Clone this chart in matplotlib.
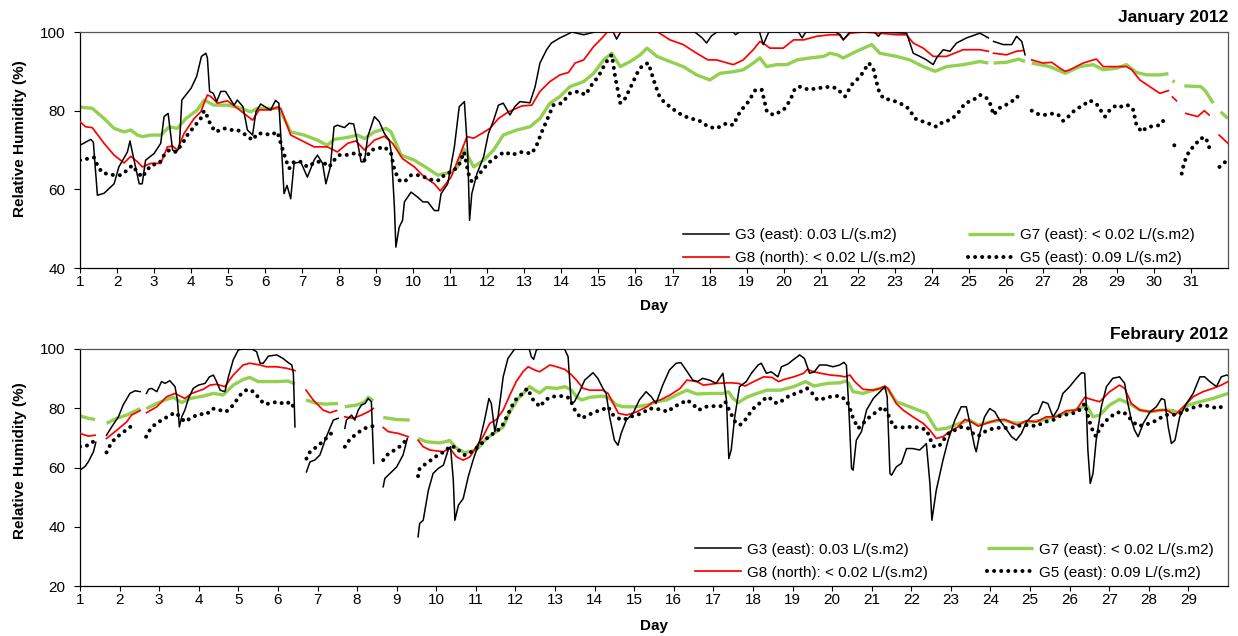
import numpy as np
import matplotlib
matplotlib.use('Agg')
import matplotlib.pyplot as plt

plt.rcParams['font.family'] = ['Liberation Sans', 'DejaVu Sans']

# ---------------- DATA (day, relative humidity %) ; None = gap in record ----------------
jan_g3 = [(1.0,71.2),(1.29,72.7),(1.36,72.0),(1.47,58.5),(1.65,59.0),(1.92,61.4),(2.05,65.7),(2.28,69.5),(2.35,72.3),
          (2.46,67.4),(2.6,61.4),(2.68,61.4),(2.77,67.4),(3.0,69.1),(3.18,71.7),(3.27,78.5),(3.38,79.3),(3.5,70.0),
          (3.59,69.5),(3.68,70.4),(3.75,82.7),(4.0,85.7),(4.15,88.7),(4.28,93.8),(4.4,94.6),(4.44,93.4),(4.5,84.9),
          (4.6,84.4),(4.69,82.3),(4.8,84.9),(4.93,84.9),(5.16,81.4),(5.25,82.7),(5.4,81.0),(5.52,75.1),(5.66,73.8),
          (5.75,79.7),(5.88,81.7),(6.06,80.6),(6.15,80.2),(6.28,82.6),(6.37,81.9),(6.44,70.8),(6.51,58.9),(6.59,61.0),
          (6.69,57.6),(6.78,66.6),(6.96,67.0),(7.14,63.1),(7.32,67.4),(7.41,68.7),(7.55,66.6),(7.64,61.4),(7.76,65.7),
          (7.86,75.9),(7.95,76.3),(8.14,75.7),(8.27,76.8),(8.39,76.6),(8.5,71.7),(8.59,67.0),(8.68,67.0),(8.77,73.4),
          (8.95,78.5),(9.08,77.2),(9.22,74.2),(9.35,72.5),(9.41,69.1),(9.49,55.5),(9.53,45.3),(9.62,50.4),(9.71,52.1),
          (9.76,56.8),(9.94,59.3),(10.12,58.0),(10.26,56.8),(10.39,56.8),(10.57,54.6),(10.68,54.6),(10.75,58.9),
          (10.93,61.4),(11.11,70.8),(11.24,81.0),(11.38,82.3),(11.47,69.1),(11.52,52.1),(11.58,58.9),(11.72,64.0),
          (11.9,68.3),(12.03,74.2),(12.17,77.6),(12.3,81.4),(12.43,81.9),(12.61,78.9),(12.74,81.0),(12.88,82.3),
          (13.15,82.0),(13.29,86.1),(13.42,92.1),(13.6,95.5),(13.73,97.2),(13.96,98.5),(14.14,99.3),(14.28,100),
          (14.6,99.3),(14.9,100),(15.4,100),(15.49,98.2),(15.6,100),(17.6,100),(17.8,98.5),(17.92,97.2),(18.05,99.0),
          (18.2,100),(18.64,100),(18.7,99.3),(18.8,100),(19.35,100),(19.45,96.8),(19.6,100),(20.4,100),(20.5,98.5),
          (20.6,100),(21.4,100),(21.53,99.3),(21.61,98.0),(21.79,100),(22.45,100),(22.56,98.9),(22.65,100),
          (23.32,99.7),(23.41,97.2),(23.5,94.6),(23.68,93.8),(23.86,92.9),(24.04,91.7),(24.13,93.4),(24.31,95.5),
          (24.49,95.1),(24.67,97.2),(24.94,98.5),(25.3,99.7),(25.53,98.5),None,(25.67,97.6),(25.93,96.8),
          (26.16,96.8),(26.29,98.9),(26.43,97.6),(26.52,94.2)]

jan_g8 = [(1.0,77.2),(1.15,75.9),(1.33,75.7),(1.65,71.7),(1.92,68.7),(2.19,66.7),(2.37,68.4),(2.55,67.0),(2.68,65.7),
          (2.91,66.6),(3.18,66.6),(3.36,70.8),(3.5,71.0),(3.63,70.0),(3.81,74.2),(4.08,78.0),(4.26,79.7),(4.44,84.0),
          (4.53,83.6),(4.71,81.9),(4.98,82.5),(5.21,80.9),(5.43,79.3),(5.66,77.6),(5.84,80.2),(6.15,80.2),(6.33,80.9),
          (6.42,80.6),(6.69,73.8),(7.05,72.1),(7.32,70.8),(7.68,70.8),(7.95,69.5),(8.23,71.7),(8.45,72.3),(8.68,70.0),
          (8.95,72.5),(9.22,73.5),(9.44,71.7),(9.71,67.8),(10.03,65.7),(10.3,63.1),(10.57,61.4),(10.73,59.6),
          (11.02,63.1),(11.29,69.5),(11.45,73.4),(11.63,73.0),(11.85,74.2),(12.07,75.5),(12.3,78.0),(12.57,79.7),
          (12.93,81.2),(13.2,81.4),(13.42,84.9),(13.69,87.4),(13.96,89.1),(14.19,89.7),(14.37,92.1),(14.6,92.9),
          (14.87,96.3),(15.1,98.5),(15.24,100),(16.6,100),(16.93,98.0),(17.29,96.8),(17.65,94.6),(17.96,92.9),
          (18.19,92.9),(18.64,91.7),(18.91,92.9),(19.18,95.5),(19.36,97.6),(19.5,96.8),(19.63,95.9),(19.99,95.9),
          (20.27,98.0),(20.54,98.0),(20.89,98.9),(21.25,99.3),(21.5,99.3),(21.61,98.0),(21.79,99.7),(22.15,100),
          (22.6,99.7),(23.05,99.3),(23.32,99.3),(23.5,97.2),(23.77,95.9),(24.04,93.8),(24.4,93.8),(24.85,95.5),
          (25.3,95.5),(25.53,95.1),None,(25.67,94.6),(26.02,94.2),(26.29,95.1),(26.47,95.3),None,(26.7,92.9),
          (27.01,92.1),(27.24,92.3),(27.46,90.8),(27.6,90.0),(27.73,90.4),(28.09,92.1),(28.36,92.9),(28.45,93.1),
          (28.63,91.2),(28.99,91.2),(29.26,91.2),(29.4,90.4),(29.62,87.8),(29.89,86.1),(30.16,84.4),(30.39,85.1),
          None,(30.5,83.5),(30.61,82.5),None,(30.86,79.3),(31.18,78.5),(31.36,80.0),(31.49,78.9),None,
          (31.76,73.8),(32.0,71.7)]

jan_g7 = [(1.0,80.9),(1.33,80.6),(1.65,78.0),(1.92,75.5),(2.19,74.6),(2.37,75.1),(2.55,73.8),(2.68,73.4),(2.91,73.8),
          (3.18,73.8),(3.41,75.9),(3.63,75.5),(3.86,78.0),(4.17,80.2),(4.35,82.7),(4.62,81.4),(4.98,81.4),(5.25,80.9),
          (5.61,79.7),(5.79,80.6),(6.15,80.6),(6.38,80.6),(6.69,74.6),(7.05,73.8),(7.41,72.5),(7.68,71.2),(7.86,72.7),
          (8.23,73.2),(8.5,73.8),(8.68,72.9),(8.95,74.6),(9.26,75.5),(9.4,74.6),(9.67,68.7),(10.03,67.4),(10.39,65.3),
          (10.66,63.6),(11.02,64.4),(11.2,65.7),(11.37,70.2),(11.63,65.7),(11.9,67.4),(12.17,70.0),(12.43,73.8),
          (12.8,75.1),(13.15,75.9),(13.42,78.0),(13.69,81.9),(13.96,83.6),(14.23,86.1),(14.6,87.4),(14.87,89.5),
          (15.14,92.9),(15.36,94.6),(15.59,91.2),(15.86,92.5),(16.13,94.2),(16.31,95.9),(16.58,93.8),(16.93,92.5),
          (17.29,91.2),(17.65,89.1),(18.01,87.8),(18.28,89.5),(18.64,89.9),(18.91,90.4),(19.18,92.1),(19.36,93.4),
          (19.54,91.2),(19.81,91.7),(20.09,91.7),(20.36,92.9),(20.72,93.4),(21.08,93.8),(21.25,94.6),(21.45,94.2),
          (21.61,93.4),(21.97,95.1),(22.38,96.8),(22.6,94.6),(23.05,93.8),(23.41,92.9),(23.77,91.2),(24.09,90.0),
          (24.4,91.2),(24.85,91.7),(25.3,92.5),(25.53,92.1),None,(25.67,92.1),(26.02,92.3),(26.34,93.1),(26.52,92.5),
          None,(26.7,92.1),(27.19,91.2),(27.6,89.5),(28.0,91.2),(28.36,91.7),(28.63,90.4),(28.99,90.8),(29.26,91.7),
          (29.53,89.7),(29.8,89.1),(30.16,89.1),(30.39,89.4),None,(30.5,87.6),(30.56,87.3),None,(30.82,86.3),
          (31.27,86.1),(31.4,84.9),(31.6,81.9),None,(31.8,79.7),(32.0,78.0)]

jan_g5 = [(1.0,67.4),(1.38,68.1),(1.47,66.1),(1.6,64.2),(1.92,63.6),(2.1,63.6),(2.28,64.9),(2.41,66.1),(2.55,64.4),
          (2.68,63.1),(2.91,66.1),(3.14,66.6),(3.27,68.7),(3.41,70.0),(3.59,69.5),(3.77,71.7),(3.9,73.8),(4.08,75.9),
          (4.26,78.0),(4.35,80.0),(4.44,78.5),(4.53,76.3),(4.66,74.6),(4.89,75.5),(5.07,75.1),(5.25,75.1),(5.48,73.8),
          (5.66,72.5),(5.79,74.2),(5.97,74.2),(6.15,73.8),(6.33,74.6),(6.44,71.2),(6.56,67.4),(6.65,65.3),(6.78,67.0),
          (6.96,67.0),(7.14,65.7),(7.37,67.0),(7.55,67.0),(7.73,65.7),(7.86,67.4),(8.0,68.7),(8.18,68.7),(8.36,69.1),
          (8.54,69.1),(8.68,67.4),(8.86,70.0),(9.05,70.4),(9.22,70.8),(9.4,69.1),(9.49,64.9),(9.62,62.3),(9.76,61.9),
          (9.94,63.6),(10.16,63.6),(10.3,63.1),(10.53,62.3),(10.71,62.3),(10.87,64.0),(11.05,64.4),(11.23,66.1),
          (11.37,69.5),(11.49,64.0),(11.58,61.9),(11.72,63.1),(11.9,65.3),(12.07,67.0),(12.3,68.7),(12.48,69.5),
          (12.66,68.7),(12.88,69.5),(13.2,69.1),(13.33,71.2),(13.47,74.6),(13.65,78.5),(13.78,81.4),(14.01,81.9),
          (14.23,84.4),(14.46,84.9),(14.65,84.0),(14.82,86.6),(15.0,88.7),(15.19,92.1),(15.36,94.2),(15.45,88.7),
          (15.59,81.9),(15.72,83.1),(15.9,86.6),(16.09,90.4),(16.22,91.7),(16.35,92.1),(16.49,87.8),(16.63,84.0),
          (16.76,82.3),(16.98,80.6),(17.25,78.9),(17.48,78.0),(17.7,77.6),(17.97,75.9),(18.19,75.5),(18.46,76.8),
          (18.64,76.3),(18.82,79.7),(19.05,82.3),(19.24,85.3),(19.41,85.3),(19.55,79.7),(19.73,78.9),(20.0,80.2),
          (20.18,82.7),(20.31,85.7),(20.45,86.1),(20.68,85.3),(20.9,85.7),(21.26,86.1),(21.43,85.7),(21.66,83.6),
          (21.84,86.6),(22.07,88.7),(22.3,92.1),(22.42,90.8),(22.56,85.3),(22.69,83.1),(22.92,82.7),(23.14,81.9),
          (23.37,80.6),(23.55,78.0),(23.77,77.2),(23.95,76.6),(24.13,75.9),(24.31,77.2),(24.49,77.6),(24.67,78.9),
          (24.9,81.9),(25.12,82.7),(25.3,84.0),(25.44,83.6),(25.56,82.3),(25.67,78.9),(25.81,80.6),(25.99,81.4),
          (26.16,82.3),(26.29,83.6),(26.47,83.1),None,(26.7,80.0),(26.88,79.1),(27.1,78.9),(27.28,79.3),(27.42,78.9),
          (27.55,77.4),(27.69,78.5),(27.87,80.2),(28.09,81.4),(28.27,82.6),(28.45,81.7),(28.59,79.7),(28.68,78.5),
          (28.81,80.2),(28.99,81.4),(29.17,80.9),(29.31,81.4),(29.44,80.2),(29.53,76.3),(29.67,74.6),(29.8,75.7),
          (29.98,76.1),(30.16,76.3),(30.3,78.0),None,(30.55,71.2),(30.59,70.8),None,(30.75,64.0),(30.81,66.6),
          (30.88,68.3),(30.97,70.0),(31.11,71.2),(31.24,72.9),(31.4,73.2),(31.47,71.2),(31.56,69.1),None,
          (31.77,65.7),(31.93,67.0)]

feb_g3 = [(1.0,59.1),(1.13,60.4),(1.21,61.9),(1.34,65.3),(1.4,68.5),None,
          (1.67,70.9),(1.8,73.7),(1.97,77.1),(2.09,81.1),(2.26,85.0),(2.39,85.9),(2.52,85.6),None,
          (2.68,85.0),(2.73,86.4),(2.81,86.7),(2.94,85.6),(3.06,89.0),(3.15,88.4),(3.27,89.3),(3.4,87.3),(3.46,82.8),
          (3.51,73.7),(3.57,77.1),(3.65,79.4),(3.74,83.3),(3.86,86.7),(3.99,87.8),(4.16,88.4),(4.27,90.6),(4.37,91.2),
          (4.45,89.0),(4.54,86.1),(4.66,85.6),(4.75,90.6),(4.87,96.3),(5.0,99.7),(5.12,100),(5.34,100),(5.46,99.1),
          (5.55,95.2),(5.63,95.2),(5.76,97.6),(5.97,98.0),(6.13,96.8),(6.26,95.4),(6.35,94.6),(6.39,91.8),(6.43,73.7),None,
          (6.72,58.5),(6.81,61.9),(6.93,62.5),(7.06,64.2),(7.19,69.2),(7.31,73.2),(7.4,76.0),(7.52,76.6),None,
          (7.69,73.2),(7.73,76.0),(7.86,77.7),(7.94,76.0),(8.03,79.4),(8.11,81.1),(8.2,81.6),(8.28,83.3),(8.36,82.2),
          (8.42,61.4),None,
          (8.66,53.5),(8.7,56.3),(8.83,58.0),(9.0,60.2),(9.16,64.2),(9.27,69.8),None,
          (9.54,36.6),(9.58,41.1),(9.67,42.2),(9.8,52.3),(9.92,58.0),(10.05,59.7),(10.18,60.8),(10.3,65.9),(10.36,67.0),
          (10.43,55.7),(10.47,42.2),(10.56,47.3),(10.68,49.5),(10.81,57.0),(10.93,62.5),(11.1,69.2),(11.22,76.0),
          (11.33,83.3),(11.39,81.6),(11.48,72.1),(11.56,77.1),(11.69,90.6),(11.81,96.8),(11.98,100),(12.35,100),
          (12.4,97.4),(12.46,96.5),(12.53,99.7),(12.6,100),(13.24,100),(13.33,97.4),(13.41,81.6),(13.49,82.2),
          (13.62,85.6),(13.75,89.5),(13.96,92.0),(14.08,90.1),(14.21,86.7),(14.29,85.0),(14.38,77.1),(14.5,69.2),
          (14.59,67.5),(14.67,71.5),(14.8,76.0),(14.97,78.3),(15.13,82.8),(15.3,85.6),(15.43,83.9),(15.55,81.6),
          (15.72,87.8),(15.89,92.9),(16.06,95.2),(16.18,95.4),(16.31,92.9),(16.48,89.5),(16.6,89.0),(16.73,90.1),
          (16.9,89.5),(17.07,88.4),(17.24,91.8),(17.33,82.8),(17.39,63.0),(17.45,65.9),(17.54,77.1),(17.66,87.3),
          (17.83,89.0),(17.96,91.8),(18.13,94.6),(18.21,95.2),(18.34,91.8),(18.46,92.3),(18.63,90.6),(18.72,94.0),
          (18.88,94.9),(19.01,96.3),(19.18,98.0),(19.3,96.8),(19.43,91.8),(19.55,92.3),(19.68,94.6),(19.85,94.6),
          (20.02,94.0),(20.19,94.6),(20.3,95.5),(20.36,94.5),(20.42,80.5),(20.49,59.7),(20.53,59.1),(20.61,69.2),
          (20.74,72.1),(20.87,79.4),(21.04,83.3),(21.21,85.6),(21.33,87.3),(21.39,83.9),(21.46,58.0),(21.5,57.4),
          (21.62,60.2),(21.75,61.4),(21.88,66.4),(22.04,66.4),(22.21,65.9),(22.3,67.0),(22.38,68.1),(22.47,54.6),
          (22.52,42.2),(22.63,52.3),(22.8,62.5),(22.93,69.2),(23.1,76.0),(23.26,80.5),(23.39,80.5),(23.48,74.9),
          (23.6,67.0),(23.64,65.3),(23.73,71.5),(23.85,77.1),(23.98,79.9),(24.11,78.8),(24.23,76.0),(24.36,73.7),
          (24.53,70.4),(24.65,69.2),(24.78,71.5),(24.91,75.4),(25.07,77.7),(25.2,78.3),(25.32,82.2),(25.45,81.6),
          (25.58,77.1),(25.71,79.9),(25.83,85.0),(26.0,87.3),(26.17,90.1),(26.3,92.0),(26.38,91.8),(26.42,80.5),
          (26.46,65.9),(26.52,54.6),(26.59,58.0),(26.67,69.2),(26.8,80.5),(26.93,87.3),(27.09,90.1),(27.26,90.6),
          (27.39,88.4),(27.47,81.6),(27.56,76.0),(27.64,72.6),(27.73,70.4),(27.86,74.9),(28.03,78.8),(28.19,80.5),
          (28.32,83.3),(28.4,82.8),(28.49,73.7),(28.57,68.1),(28.66,69.2),(28.78,77.1),(28.95,81.6),(29.12,85.0),
          (29.29,90.6),(29.41,90.6),(29.54,89.0),(29.71,87.3),(29.83,90.6),(29.96,91.2),(30.0,91.0)]

feb_g8 = [(1.0,71.5),(1.21,70.6),(1.38,70.9),None,
          (1.67,69.8),(1.93,72.6),(2.18,75.4),(2.3,77.7),(2.52,79.2),None,
          (2.68,78.5),(2.94,80.5),(3.19,83.9),(3.4,85.0),(3.65,83.3),(3.82,85.0),(4.11,86.4),(4.28,87.8),(4.45,88.1),
          (4.66,87.3),(4.87,91.2),(5.12,94.6),(5.29,95.2),(5.55,94.6),(5.71,94.0),(5.97,94.0),(6.22,93.5),(6.43,92.7),None,
          (6.71,86.1),(6.89,82.8),(7.14,79.4),(7.31,78.5),(7.48,79.2),None,
          (7.69,77.1),(7.9,76.6),(8.11,77.7),(8.28,78.8),(8.41,79.9),None,
          (8.66,73.5),(8.79,72.1),(9.04,71.5),(9.29,70.4),None,
          (9.54,69.2),(9.67,67.0),(9.84,65.9),(10.18,65.3),(10.34,66.5),(10.51,63.6),(10.68,62.5),(10.85,63.6),
          (11.01,67.0),(11.18,70.4),(11.35,74.9),(11.52,76.2),(11.69,79.4),(11.86,84.5),(12.02,89.0),(12.19,92.3),
          (12.32,94.0),(12.49,92.9),(12.61,92.3),(12.87,94.6),(13.04,94.0),(13.25,93.1),(13.42,91.2),(13.54,89.5),
          (13.71,86.7),(13.88,86.1),(14.21,86.1),(14.34,85.0),(14.47,81.6),(14.6,78.3),(14.81,77.7),(15.06,78.8),
          (15.32,80.5),(15.49,82.2),(15.66,82.8),(15.91,84.5),(16.16,86.7),(16.33,89.5),(16.58,89.0),(16.75,87.8),
          (17.09,88.4),(17.42,88.6),(17.63,88.4),(17.8,87.5),(18.02,89.0),(18.27,90.6),(18.48,90.4),(18.65,89.0),
          (18.78,89.7),(19.03,90.6),(19.28,91.8),(19.37,93.1),(19.54,92.3),(19.71,91.8),(19.96,91.2),(20.21,90.9),
          (20.32,90.6),(20.45,91.2),(20.57,89.0),(20.78,86.4),(21.04,86.1),(21.21,86.7),(21.33,87.5),(21.41,86.7),
          (21.62,81.6),(21.79,79.4),(22.04,77.1),(22.3,74.9),(22.47,72.6),(22.63,69.8),(22.8,70.4),(22.97,72.1),
          (23.18,73.7),(23.35,76.2),(23.52,75.4),(23.69,74.0),(23.9,74.9),(24.15,76.0),(24.36,76.2),(24.57,74.9),
          (24.69,74.3),(24.9,75.8),(25.16,75.4),(25.41,77.1),(25.66,77.1),(25.92,79.2),(26.17,79.4),(26.38,83.7),
          (26.59,82.8),(26.76,82.2),(27.01,85.6),(27.26,87.8),(27.39,86.7),(27.56,81.6),(27.77,79.4),(28.03,78.8),
          (28.28,79.4),(28.45,79.4),(28.66,77.7),(28.87,80.5),(29.12,83.9),(29.37,85.6),(29.62,86.7),(29.83,87.8),
          (30.0,89.0)]

feb_g7 = [(1.0,77.4),(1.21,76.6),(1.38,76.2),None,
          (1.67,74.9),(1.93,76.6),(2.18,77.7),(2.52,79.9),None,
          (2.68,79.9),(2.94,81.6),(3.19,83.0),(3.36,83.7),(3.57,81.9),(3.78,83.3),(4.11,84.1),(4.37,85.0),(4.62,84.5),
          (4.87,87.8),(5.12,89.7),(5.29,90.4),(5.5,89.0),(5.71,89.0),(5.97,89.0),(6.26,89.2),(6.43,88.2),None,
          (6.71,82.8),(6.98,81.6),(7.23,81.4),(7.52,81.6),None,
          (7.69,80.5),(7.99,81.1),(8.2,82.2),(8.28,83.7),(8.41,82.5),None,
          (8.66,76.9),(9.0,76.2),(9.33,76.0),None,
          (9.54,69.8),(9.75,68.7),(10.09,68.3),(10.34,69.1),(10.51,66.5),(10.72,65.0),(11.01,65.9),(11.27,69.8),
          (11.52,72.1),(11.69,73.7),(11.86,78.8),(12.07,83.3),(12.24,85.6),(12.36,87.3),(12.49,86.1),(12.61,85.2),
          (12.78,87.0),(13.04,86.7),(13.25,87.3),(13.42,86.1),(13.54,83.9),(13.67,82.8),(13.88,83.7),(14.21,84.1),
          (14.38,83.3),(14.55,81.1),(14.72,80.5),(15.06,80.5),(15.32,81.1),(15.57,82.2),(15.82,82.8),(16.07,84.5),
          (16.33,86.1),(16.58,84.8),(16.92,85.0),(17.25,85.0),(17.38,85.6),(17.5,83.3),(17.63,81.9),(17.84,83.7),
          (18.1,85.0),(18.35,86.1),(18.69,86.1),(19.03,87.3),(19.33,89.0),(19.54,87.5),(19.88,88.4),(20.21,88.6),
          (20.34,89.2),(20.42,88.4),(20.53,85.6),(20.78,85.0),(21.04,86.1),(21.29,87.0),(21.41,86.4),(21.62,82.2),
          (21.96,80.5),(22.38,78.3),(22.63,72.8),(22.88,73.2),(23.22,74.9),(23.47,76.0),(23.69,74.3),(23.98,75.4),
          (24.32,76.0),(24.65,74.9),(24.99,75.4),(25.32,76.0),(25.66,77.4),(26.0,78.8),(26.25,79.9),(26.42,81.1),
          (26.59,77.1),(26.76,77.7),(27.01,81.1),(27.26,83.0),(27.51,81.6),(27.77,79.4),(28.03,78.8),(28.36,79.4),
          (28.62,79.2),(28.74,78.5),(29.0,81.1),(29.29,82.2),(29.62,83.3),(30.0,85.0)]

feb_g5 = [(1.0,67.0),(1.21,67.5),(1.38,69.2),None,
          (1.67,65.1),(1.76,67.5),(1.88,69.7),(2.05,71.5),(2.22,73.2),(2.35,74.5),None,
          (2.67,70.4),(2.77,72.8),(2.92,74.9),(3.1,76.2),(3.27,77.7),(3.42,78.5),(3.65,75.4),(3.82,76.9),(4.01,78.0),
          (4.2,78.0),(4.35,79.9),(4.52,79.4),(4.69,78.8),(4.83,80.5),(4.96,82.8),(5.08,85.0),(5.23,86.4),(5.38,85.6),
          (5.53,83.3),(5.65,81.4),(5.8,81.6),(5.98,82.2),(6.18,81.4),(6.32,82.2),(6.43,79.6),None,
          (6.72,63.0),(6.81,65.3),(6.98,67.0),(7.13,68.7),(7.27,70.6),(7.42,72.4),None,
          (7.69,67.0),(7.8,69.2),(7.94,70.9),(8.09,72.4),(8.24,73.5),(8.41,74.0),None,
          (8.66,62.5),(8.79,64.7),(8.95,65.9),(9.12,67.5),(9.27,69.8),None,
          (9.54,57.1),(9.58,59.7),(9.75,61.4),(9.92,63.0),(10.09,64.7),(10.22,65.3),(10.34,67.2),(10.51,66.8),
          (10.6,65.3),(10.72,64.2),(10.89,65.3),(11.06,67.0),(11.23,69.2),(11.36,70.9),(11.48,71.7),(11.65,73.7),
          (11.78,77.1),(11.9,80.5),(12.03,83.3),(12.18,85.0),(12.3,86.7),(12.45,82.8),(12.62,80.5),(12.75,82.8),
          (12.92,83.9),(13.08,84.1),(13.25,84.1),(13.37,83.3),(13.52,78.8),(13.67,76.6),(13.84,77.7),(14.01,78.8),
          (14.18,79.4),(14.34,80.5),(14.47,77.7),(14.6,76.6),(14.72,76.0),(14.89,77.1),(15.06,77.7),(15.23,78.5),
          (15.36,79.9),(15.53,79.9),(15.7,79.4),(15.86,78.8),(15.99,80.5),(16.16,81.4),(16.33,82.8),(16.46,81.6),
          (16.63,79.4),(16.8,80.5),(16.97,80.7),(17.18,80.7),(17.3,82.2),(17.42,78.8),(17.55,75.4),(17.67,74.3),
          (17.8,76.0),(17.92,78.3),(18.05,80.5),(18.22,82.2),(18.35,83.9),(18.48,83.0),(18.6,81.6),(18.77,82.8),
          (18.94,84.5),(19.11,85.0),(19.28,86.1),(19.37,86.7),(19.5,85.0),(19.63,82.8),(19.8,83.3),(19.96,83.9),
          (20.18,84.2),(20.36,82.8),(20.45,79.9),(20.53,76.6),(20.66,73.2),(20.78,74.9),(20.95,77.1),(21.12,78.8),
          (21.29,80.5),(21.38,78.8),(21.46,76.6),(21.55,73.7),(21.72,73.5),(21.98,73.7),(22.22,73.5),(22.39,72.6),
          (22.47,69.8),(22.56,67.2),(22.69,67.0),(22.81,69.2),(22.94,71.5),(23.1,72.6),(23.27,73.7),(23.44,73.2),
          (23.56,71.5),(23.69,70.6),(23.86,72.1),(24.07,73.2),(24.28,73.5),(24.49,73.2),(24.65,74.0),(24.91,74.3),
          (25.16,74.0),(25.37,75.4),(25.58,76.0),(25.79,77.7),(26.0,78.0),(26.21,78.8),(26.38,81.6),(26.49,76.0),
          (26.59,72.1),(26.67,70.4),(26.76,73.2),(26.89,75.4),(27.01,76.9),(27.18,78.5),(27.35,78.8),(27.47,77.4),
          (27.6,75.4),(27.73,74.0),(27.86,74.3),(28.03,74.9),(28.24,76.2),(28.36,77.4),(28.53,78.0),(28.7,77.7),
          (28.87,78.8),(29.03,79.9),(29.2,80.5),(29.37,81.1),(29.58,80.5),(29.75,79.9),(29.92,81.1)]

series_labels = ['G3 (east): 0.03 L/(s.m2)', 'G8 (north): < 0.02 L/(s.m2)',
                 'G7 (east): < 0.02 L/(s.m2)', 'G5 (east): 0.09 L/(s.m2)']
jan_days = list(range(1, 32))
feb_days = list(range(1, 30))
titles = ['January 2012', 'Febraury 2012']


def unzip(pairs):
    d = np.array([np.nan if p is None else p[0] for p in pairs], dtype=float)
    v = np.array([np.nan if p is None else p[1] for p in pairs], dtype=float)
    return d, v


GREEN = '#92d050'
RED = '#ff0000'
styles = {
    'g7': dict(color=GREEN, lw=2.4, solid_capstyle='butt', zorder=2),
    'g8': dict(color=RED, lw=1.25, zorder=3),
    'g3': dict(color='black', lw=1.1, zorder=4),
    'g5': dict(color='black', lw=2.9, linestyle=(0, (0.01, 1.75)), dash_capstyle='round', zorder=5),
}

W, H = 1238, 636
fig = plt.figure(figsize=(W / 100, H / 100), dpi=100)
ax1 = fig.add_axes([80 / W, 1 - 268 / H, 1148 / W, 236 / H])
ax2 = fig.add_axes([80 / W, 1 - 586 / H, 1148 / W, 237 / H])

panels = [
    (ax1, jan_g3, jan_g8, jan_g7, jan_g5, jan_days, (40, 100), [40, 60, 80, 100], titles[0],
     (0.525, 0.012), 3.45, 0.55, -0.131, 7.5),
    (ax2, feb_g3, feb_g8, feb_g7, feb_g5, feb_days, (20, 100), [20, 40, 60, 80, 100], titles[1],
     (0.536, 0.026), 3.85, 0.53, -0.139, 7.0),
]

for (ax, g3, g8, g7, g5, days, ylim, yticks, title, legpos, colsp, ylab_y, xlab_y, tpad) in panels:
    h7, = ax.plot(*unzip(g7), **styles['g7'])
    h8, = ax.plot(*unzip(g8), **styles['g8'])
    h3, = ax.plot(*unzip(g3), **styles['g3'])
    h5, = ax.plot(*unzip(g5), **styles['g5'])

    ax.set_xlim(days[0], days[-1] + 1)
    ax.set_ylim(*ylim)
    ax.set_xticks(days)
    ax.set_xticklabels([str(d) for d in days])
    ax.set_yticks(yticks)
    ax.tick_params(axis='x', direction='out', length=3.8, width=0.8, labelsize=11, pad=1.5)
    ax.tick_params(axis='y', direction='out', length=4.3, width=0.8, labelsize=11, pad=6)
    for side in ['left', 'bottom']:
        ax.spines[side].set_color('black')
        ax.spines[side].set_linewidth(0.9)
    for side in ['top', 'right']:
        ax.spines[side].set_color('#555555')
        ax.spines[side].set_linewidth(0.9)

    ax.set_ylabel('Relative Humidity (%)', fontsize=11, fontweight='bold')
    ax.yaxis.set_label_coords(-0.046, ylab_y)
    ax.set_xlabel('Day', fontsize=11, fontweight='bold')
    ax.xaxis.set_label_coords(0.5, xlab_y)
    ax.set_title(title, loc='right', fontsize=12.5, fontweight='bold', pad=tpad)

    ax.legend([h3, h8, h7, h5], series_labels, ncol=2, loc='lower left', bbox_to_anchor=legpos,
              frameon=False, fontsize=11, handlelength=3.0, handletextpad=0.4,
              columnspacing=colsp, labelspacing=0.6, borderpad=0, borderaxespad=0)

fig.savefig('out.png', dpi=100)
